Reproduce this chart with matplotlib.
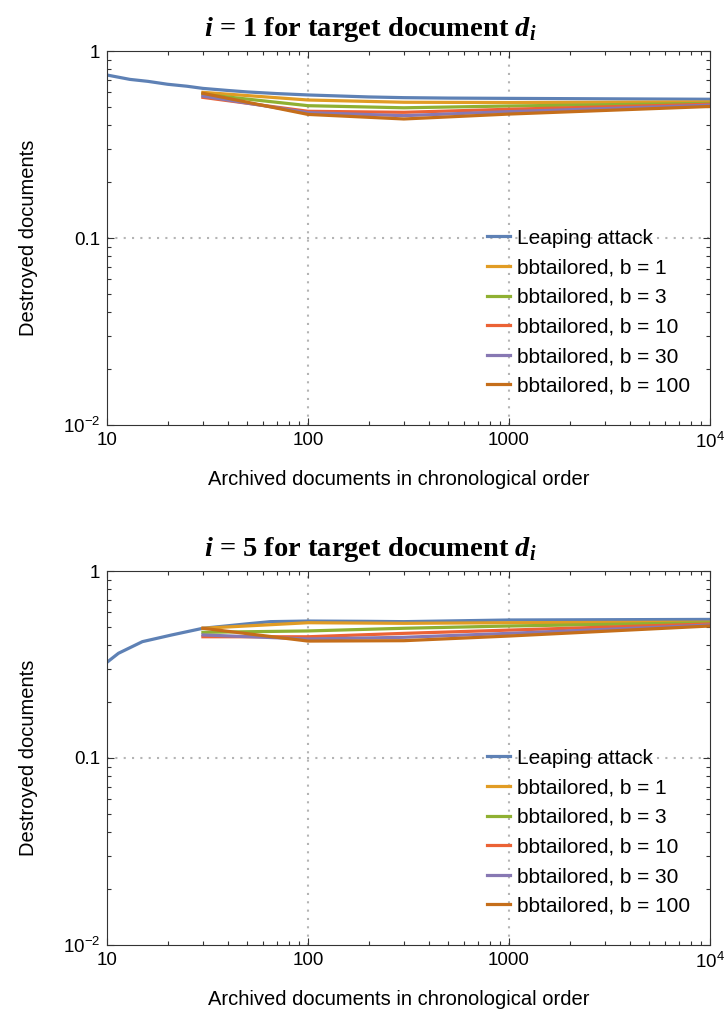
import numpy as np
import matplotlib
matplotlib.use("Agg")
import matplotlib.pyplot as plt
from matplotlib.ticker import FixedLocator, NullFormatter

plt.rcParams['font.family'] = ['Liberation Sans', 'DejaVu Sans']
plt.rcParams['mathtext.fontset'] = 'custom'
plt.rcParams['mathtext.rm'] = 'Liberation Sans'
plt.rcParams['mathtext.it'] = 'Liberation Sans:italic'
plt.rcParams['mathtext.bf'] = 'Liberation Sans:bold'
plt.rcParams['mathtext.bfit'] = 'Liberation Serif:bold:italic'

# data
labels = ["Leaping attack", "bbtailored, b = 1", "bbtailored, b = 3",
          "bbtailored, b = 10", "bbtailored, b = 30", "bbtailored, b = 100"]
colors = ["#5E81B5", "#E19C24", "#8FB032", "#EB6235", "#8778B3", "#C56E1A"]

leap_x1 = [10, 13, 16, 20, 25, 30, 40, 50, 70, 100, 200, 300, 500, 1000, 3000, 10000]
leap_y1 = [0.744, 0.705, 0.688, 0.664, 0.648, 0.631, 0.615, 0.604, 0.592, 0.582,
           0.568, 0.563, 0.560, 0.558, 0.555, 0.552]
leap_x5 = [10, 11.4, 15, 21, 30, 50, 65, 100, 200, 300, 1000, 10000]
leap_y5 = [0.325, 0.363, 0.419, 0.455, 0.494, 0.522, 0.536, 0.540, 0.538, 0.536,
           0.547, 0.551]

bb_x = [30, 100, 300, 1000, 10000]
bb_y1 = [
    [0.601, 0.547, 0.532, 0.530, 0.534],   # b = 1
    [0.587, 0.510, 0.497, 0.508, 0.525],   # b = 3
    [0.565, 0.476, 0.470, 0.488, 0.519],   # b = 10
    [0.574, 0.468, 0.451, 0.474, 0.513],   # b = 30
    [0.594, 0.458, 0.433, 0.460, 0.505],   # b = 100
]
bb_y5 = [
    [0.494, 0.529, 0.525, 0.529, 0.533],
    [0.470, 0.478, 0.494, 0.508, 0.529],
    [0.445, 0.445, 0.464, 0.483, 0.521],
    [0.455, 0.433, 0.442, 0.464, 0.514],
    [0.494, 0.422, 0.424, 0.449, 0.508],
]

x_ticks = [10, 100, 1000, 10000]
x_ticklabels = ["10", "100", "1000", "$10^4$"]
y_ticks = [0.01, 0.1, 1]
y_ticklabels = ["$10^{-2}$", "0.1", "1"]
titles = [r"$\mathbfit{i}$ = 1 for target document $\mathbfit{d}_{\mathbfit{i}}$",
          r"$\mathbfit{i}$ = 5 for target document $\mathbfit{d}_{\mathbfit{i}}$"]

W, H = 728, 1023
fig = plt.figure(figsize=(W / 100, H / 100), dpi=100)

def draw(ax, lx, ly, bys, title):
    ax.set_xscale('log')
    ax.set_yscale('log')
    ax.set_xlim(10, 10000)
    ax.set_ylim(0.01, 1)
    for g in x_ticks[1:-1]:
        ax.axvline(g, color='#b4b4b4', lw=1.5, ls=(0, (1, 3)), zorder=0)
    for g in y_ticks[1:-1]:
        ax.axhline(g, color='#b4b4b4', lw=1.5, ls=(0, (1, 3)), zorder=0)
    ax.plot(lx, ly, color=colors[0], lw=2.3, label=labels[0])
    for i, y in enumerate(bys):
        ax.plot(bb_x, y, color=colors[i + 1], lw=2.3, label=labels[i + 1])
    ax.set_xticks(x_ticks)
    ax.set_xticklabels(x_ticklabels)
    ax.set_yticks(y_ticks)
    ax.set_yticklabels(y_ticklabels)
    ax.xaxis.set_minor_locator(FixedLocator(
        [m * 10 ** e for e in range(1, 4) for m in range(2, 10)]))
    ax.yaxis.set_minor_locator(FixedLocator(
        [m * 10.0 ** e for e in range(-2, 0) for m in range(2, 10)]))
    ax.xaxis.set_minor_formatter(NullFormatter())
    ax.yaxis.set_minor_formatter(NullFormatter())
    ax.tick_params(which='both', direction='in', top=True, right=True,
                   color='#333333', labelsize=13.5, width=0.8)
    ax.tick_params(which='major', length=5, pad=5)
    ax.tick_params(which='minor', length=3)
    for s in ax.spines.values():
        s.set_color('#333333')
        s.set_linewidth(0.8)
    ax.set_xlabel("Archived documents in chronological order", fontsize=14.5)
    ax.xaxis.set_label_coords(0.484, -0.12)
    ax.set_ylabel("Destroyed documents", fontsize=14.5, labelpad=18)
    ax.set_title(title, fontsize=20.5, fontweight='bold', family='Liberation Serif',
                 x=0.436, pad=11)
    ax.legend(loc='upper left', bbox_to_anchor=(0.63, 0.525), frameon=False,
              fontsize=15, handlelength=1.1, handletextpad=0.35,
              labelspacing=0.51, borderpad=0, borderaxespad=0)

ax1 = fig.add_axes([107 / W, 1 - 425 / H, 603 / W, 374 / H])
draw(ax1, leap_x1, leap_y1, bb_y1, titles[0])
ax2 = fig.add_axes([107 / W, 1 - 945 / H, 603 / W, 374 / H])
draw(ax2, leap_x5, leap_y5, bb_y5, titles[1])

fig.savefig("out.png", dpi=100)
